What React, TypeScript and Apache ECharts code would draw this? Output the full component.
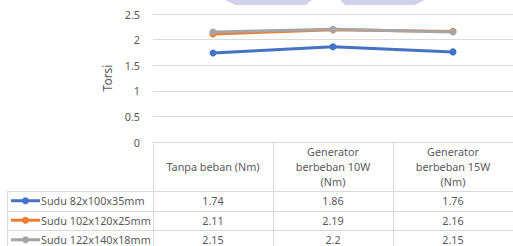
import React, { useEffect, useRef } from "react";
import * as echarts from "echarts";

const categories = ["Tanpa beban (Nm)", "Generator\nberbeban 10W\n(Nm)", "Generator\nberbeban 15W\n(Nm)"];
const seriesNames = ["Sudu 82x100x35mm", "Sudu 102x120x25mm", "Sudu 122x140x18mm"];
const sudu82 = [1.74, 1.86, 1.76];
const sudu102 = [2.11, 2.19, 2.16];
const sudu122 = [2.15, 2.2, 2.15];
const seriesValues = [sudu82, sudu102, sudu122];
const colors = ["#4472C4", "#ED7D31", "#A5A5A5"];
const yMin = 0;
const yMax = 2.5;
const yInterval = 0.5;

const FONT = "Noto Sans";
const TEXT = "#595959";
const GRID = "#d9d9d9";
const FS = 10.8;

export default function App() {
  const ref = useRef<HTMLDivElement>(null);
  useEffect(() => {
    document.body.style.margin = "0";
    const chart = echarts.init(ref.current!, null, { renderer: "svg" });
    chart.setOption({
      animation: false,
      grid: { left: 153, right: 0, top: 14, bottom: 104 },
      xAxis: {
        type: "category",
        data: categories,
        boundaryGap: true,
        axisLine: { show: false },
        axisTick: { show: false },
        axisLabel: { show: false },
      },
      yAxis: {
        type: "value",
        min: yMin,
        max: yMax,
        interval: yInterval,
        name: "Torsi",
        nameLocation: "middle",
        nameGap: 40,
        nameTextStyle: { color: TEXT, fontFamily: FONT, fontSize: 12 },
        axisLine: { show: false },
        axisTick: { show: false },
        axisLabel: { color: TEXT, fontFamily: FONT, fontSize: FS, margin: 13 },
        splitLine: { lineStyle: { color: GRID, width: 1 } },
      },
      series: seriesValues.map((vals, i) => ({
        type: "line",
        name: seriesNames[i],
        data: vals,
        symbol: "circle",
        symbolSize: 7,
        lineStyle: { color: colors[i], width: 3 },
        itemStyle: { color: colors[i] },
      })),
    });

    const centers = categories.map((c) => chart.convertToPixel({ xAxisIndex: 0 }, c) as number);
    const band = centers[1] - centers[0];
    const tableTop = chart.convertToPixel({ yAxisIndex: 0 }, 0) as number;
    const headerBottom = tableTop + 49;
    const rowH = 19.5;
    const legendLeft = 7;
    const right = 513;
    const g: any[] = [];
    const line = (x1: number, y1: number, x2: number, y2: number) =>
      g.push({
        type: "line",
        shape: { x1, y1, x2, y2 },
        style: { stroke: GRID, lineWidth: 1 },
        silent: true,
      });
    const bounds = [centers[0] - band / 2, ...centers.map((c) => c + band / 2)];
    bounds.forEach((b) => line(Math.round(b) + 0.5, tableTop, Math.round(b) + 0.5, 246));
    line(legendLeft + 0.5, headerBottom, legendLeft + 0.5, 246);
    line(bounds[0], Math.round(tableTop) + 0.5, right, Math.round(tableTop) + 0.5);
    for (let r = 0; r < seriesNames.length + 1; r++) {
      const y = Math.round(headerBottom + r * rowH) + 0.5;
      line(legendLeft, y, right, y);
    }
    categories.forEach((c, i) => {
      g.push({
        type: "text",
        x: centers[i],
        y: (tableTop + headerBottom) / 2,
        style: {
          text: c,
          fill: TEXT,
          font: `${FS}px "${FONT}"`,
          align: "center",
          verticalAlign: "middle",
          lineHeight: 15,
        },
        silent: true,
      });
    });
    seriesNames.forEach((name, r) => {
      const cy = headerBottom + r * rowH + rowH / 2;
      g.push({
        type: "line",
        shape: { x1: 11, y1: cy, x2: 40, y2: cy },
        style: { stroke: colors[r], lineWidth: 3 },
        silent: true,
      });
      g.push({
        type: "circle",
        shape: { cx: 25.5, cy, r: 3.5 },
        style: { fill: colors[r] },
        silent: true,
      });
      g.push({
        type: "text",
        x: 41,
        y: cy,
        style: { text: name, fill: TEXT, font: `${FS}px "${FONT}"`, align: "left", verticalAlign: "middle" },
        silent: true,
      });
      seriesValues[r].forEach((v, i) => {
        g.push({
          type: "text",
          x: centers[i],
          y: cy,
          style: { text: String(v), fill: TEXT, font: `${FS}px "${FONT}"`, align: "center", verticalAlign: "middle" },
          silent: true,
        });
      });
    });
    g.push({
      type: "polygon",
      shape: { points: [[225, 0], [312, 0], [306, 5], [235, 5]] },
      style: { fill: "rgba(150,155,210,0.45)" },
      silent: true,
    });
    g.push({
      type: "polygon",
      shape: { points: [[340, 0], [425, 0], [415, 5], [345, 5]] },
      style: { fill: "rgba(150,155,210,0.45)" },
      silent: true,
    });
    chart.setOption({ graphic: g });
    return () => chart.dispose();
  }, []);
  return <div ref={ref} style={{ width: 513, height: 246 }} />;
}
